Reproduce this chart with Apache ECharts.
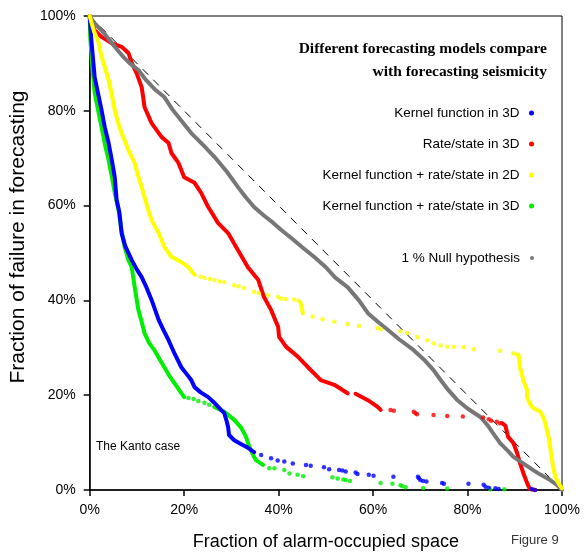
<!DOCTYPE html>
<html>
<head>
<meta charset="utf-8">
<script src="https://cdn.jsdelivr.net/npm/echarts@6/dist/echarts.min.js"></script>
<style>
html,body{margin:0;padding:0;background:#fff;}
#chart{width:584px;height:560px;}
</style>
</head>
<body>
<div id="chart"></div>
<script>
// ---- tick labels / names ----
var xTicks = [0, 20, 40, 60, 80, 100];
var yTicks = [0, 20, 40, 60, 80, 100];
var legendNames = ["Kernel function in 3D", "Rate/state in 3D", "Kernel function + rate/state in 2D", "Kernel function + rate/state in 3D"];
var nullName = "1 % Null hypothesis";

// ---- data: [fraction of alarm-occupied space %, fraction of failure %] ----
// null = break in the continuous trace
var blueSolid = [[0,100],[0.2,97],[0.4,94.3],[0.7,91],[1.05,87.1],[1.8,83.5],[2.5,80.2],[3.2,76.5],[4.0,73.2],[4.7,69.5],[5.3,66.0],[5.7,61.2],[6.3,58.5],[6.75,54.2],[7.5,51.5],[8.9,48.5],[10,46.5],[11.0,44.9],[12,42.8],[13.1,40.1],[14.6,35.9],[15.6,33.8],[16.7,31.6],[18,28.7],[19.4,25.9],[20.5,24.5],[21.5,23.2],[22.2,21.7],[23.5,20.6],[25.1,19.6],[26.5,18.3],[27.8,16.9],[28.5,16.2],[29.0,14.5],[29.3,13.3],[29.5,11.6],[30.6,10.5],[32,9.7],[33.5,8.9],[34.8,8.0]];
var blueDots = [[36.3,7.4],[38.4,6.7],[39.8,6.2],[41.2,6.0],[43.0,5.6],[45.8,5.3],[46.8,5.1],[49.6,4.8],[50.7,4.4],[52.8,4.2],[53.5,4.1],[54.2,3.9],[56.3,3.7],[56.7,3.4],[59.1,3.2],[60.1,3.0],[64.3,2.8],[69.5,2.8],[69.7,2.5],[70.0,2.1],[70.6,1.9],[71.3,1.8],[74.6,1.5],[75.0,1.3],[80.2,1.3],[83.4,1.1],[83.8,0.7],[84.5,0.5],[85.9,0.35],[86.6,0.2],[93.6,0.2],[94.3,0]];

var greenSolid = [[0,100],[0.1,95.6],[0.5,90],[1.05,83.8],[1.8,80],[2.5,76.6],[3.2,73],[4.0,69.6],[4.7,66],[5.3,62.7],[6.1,59.1],[6.7,55],[7.4,51.3],[8.2,48.5],[8.9,47.0],[9.5,43],[10.3,38.0],[11.0,35.5],[11.6,33.1],[12.6,31],[13.7,29.5],[14.8,27.6],[15.8,25.9],[16.8,24.2],[17.9,22.6],[19.0,21],[20.0,19.6],null,[26.4,17.5],[28.5,16.5],[30.6,14.8],[32.1,13.1],[33.1,11.2],[33.8,9.1],[34.6,7.4],[35.2,6.3],[36.7,5.3]];
var greenDots = [[20.9,19.4],[22.0,19.2],[23.0,18.8],[24.3,18.4],[25.3,18.0],[38.0,4.6],[39.1,4.6],[41.2,4.2],[42.3,3.5],[44.0,3.2],[45.2,2.9],[51.4,2.7],[52.5,2.4],[53.7,2.2],[54.2,2.1],[55.1,1.9],[61.6,1.5],[64.1,1.3],[65.8,1.0],[66.2,0.8],[66.9,0.6],[70.6,0.4],[75.7,0.3],[84.8,0.15],[87.8,0.15]];

var yellowSolid = [[0,100],[0.4,98.5],[1.0,96.5],[1.9,94.3],[2.5,91.5],[3.2,89.2],[4.0,86.5],[4.6,83.8],[5.3,80.2],[6.0,77.5],[6.75,75.3],[7.5,73.5],[8.2,71.7],[9.5,69.0],[10.2,66.5],[11.0,63.9],[11.7,61.5],[12.4,59.1],[13.1,57.0],[14.6,54.2],[15.8,51.3],[17.3,49.2],[19.4,48.1],[20.9,47.0],[22.2,45.4],null,[44.6,39.6],[44.9,38.5],[45.1,37.3],null,[90.8,28.5],[91.0,27],[91.1,25.9],[91.5,24.5],[91.8,23.2],[92.2,22],[92.6,21.1],[92.6,19.6],[93.2,18.2],[93.9,17.3],[95.4,16.5],[96.2,15],[96.8,12.7],[97.2,11],[97.5,9.1],[97.8,7],[98.1,4.9],[98.5,3.2],[98.9,2.1],[99.5,1],[100,0.4]];
var yellowDots = [[23.5,45.0],[24.3,44.7],[25.4,44.5],[26.4,44.3],[27.5,44.0],[28.5,43.9],[30.6,43.2],[31.5,43.0],[32.7,42.6],[34.8,41.8],[35.8,41.5],[37.8,41.1],[39.9,40.7],[40.5,40.4],[41.5,40.3],[43.3,40.2],[44.2,39.9],[47.2,36.6],[49.3,36.0],[51.8,35.5],[54.6,35.0],[57.0,34.6],[60.9,34.2],[61.6,33.9],[65.8,33.5],[67.2,33.1],[69.3,32.3],[71.5,31.6],[72.8,30.9],[74.3,30.5],[75.7,30.2],[77.1,30.2],[79.2,30.1],[81.3,29.7],[86.9,29.4],[89.7,28.8],[90.5,28.6]];

var redSolid = [[0,100],[0.4,98.8],[1.05,97.0],[2.5,95.6],[4.6,94.3],[6.75,93.5],[8.2,92.2],[8.9,90.1],[9.9,88.0],[11.0,85.0],[11.3,83],[11.6,80.8],[13.1,77.4],[15.2,74.5],[16.7,73.2],[17.3,71.1],[18.8,69.0],[20.0,66.0],[22.2,64.8],[23.6,62.7],[25.1,59.7],[27.2,56.3],[29.3,54.2],[31.4,50.6],[33.5,47.0],[35.7,44.3],[36.9,40.7],[38.4,38.0],[39.9,34.4],[40.1,32.3],[41.6,30.2],[44.1,28.1],[46.2,25.9],[48.3,23.8],[48.9,23.2],[51.8,22.2],[54.6,20.4],null,[56.3,20.3],[58.8,19.0],[60.9,17.6],[61.6,16.9],null,[87.3,14.1],[88.0,13.6],[88.4,13.3],[88.6,11.2],[89.7,9.9],[90.5,7.8],[91.1,5.7],[91.8,3.6],[92.6,1.5],[93.2,0.2],[94.3,0]];
var redDots = [[63.7,16.9],[64.4,16.7],[68.6,16.5],[69.0,16.2],[69.3,16.0],[72.8,15.8],[75.7,15.6],[79.0,15.5],[83.3,15.3],[84.5,14.9],[85.0,14.6],[86.2,14.4],[86.9,14.1]];

var graySolid = [[0,100],[1,98.5],[2.5,97.0],[4,95.2],[5.3,93.5],[7,91.5],[8.5,90],[10.3,88.6],[12,86.4],[13.8,84.5],[15.8,82.9],[17.5,80.3],[19.5,77.8],[21.5,75.3],[24,72.8],[26.4,70.3],[29,67.2],[31.4,63.9],[33,61.8],[34.8,59.7],[37,57.8],[38.8,56.4],[40.5,54.9],[43,52.9],[45,51.2],[47.5,49.2],[50,47.0],[52,44.8],[54.6,42.8],[57,40],[58.9,37.3],[61,35.5],[63.1,33.8],[65.5,31.8],[68.6,29.5],[70.8,27.5],[72.8,25.3],[74.3,23.2],[76,21],[77.8,19.0],[80,17.2],[82.7,15.4],[84.3,13.6],[85.4,12.0],[86.9,9.9],[88.5,8.3],[89.7,7.0],[91.8,5.6],[93.9,4.2],[95.5,3.2],[97.5,2.1],[99,1],[100,0]];
var diagonal = [[0,100],[100,0]];

var colors = {blue:"#0000ff", red:"#ff0000", yellow:"#ffff00", green:"#00ee00", gray:"#777777"};

function solid(name, data, color){
  return {type:"line", name:name, data:data, showSymbol:false, connectNulls:false, silent:true,
    lineStyle:{color:color, width:4, cap:"round", join:"round"}, itemStyle:{color:color}, z:3};
}
function dots(name, data, color){
  return {type:"scatter", name:name, data:data, symbol:"circle", symbolSize:4.5, silent:true,
    itemStyle:{color:color}, z:3};
}

var chart = echarts.init(document.getElementById("chart"), null, {renderer:"canvas"});
var sans = "'Liberation Sans', Arial, Helvetica, sans-serif";
chart.setOption({
  animation:false,
  backgroundColor:"#fff",
  grid:{left:88, top:16, width:474, height:474, show:true, borderColor:"#000", borderWidth:1, backgroundColor:"transparent"},
  xAxis:{type:"value", min:xTicks[0], max:xTicks[xTicks.length-1], interval:20,
    name:"Fraction of alarm-occupied space", nameLocation:"middle", nameGap:43,
    nameTextStyle:{fontSize:18, color:"#000", fontFamily:sans},
    axisLine:{lineStyle:{color:"#000", width:1.5}},
    axisTick:{inside:false, length:6, lineStyle:{color:"#000", width:1.5}},
    axisLabel:{formatter:"{value}%", fontSize:14, color:"#000", margin:13, fontFamily:sans},
    splitLine:{show:false}},
  yAxis:{type:"value", min:yTicks[0], max:yTicks[yTicks.length-1], interval:20,
    name:"Fraction of failure in forecasting", nameLocation:"middle", nameGap:55,
    nameTextStyle:{fontSize:21, color:"#000", fontFamily:sans, padding:[0,0,0,32]},
    axisLine:{lineStyle:{color:"#000", width:1.5}},
    axisTick:{inside:false, length:6, lineStyle:{color:"#000", width:1.5}},
    axisLabel:{formatter:"{value}%", fontSize:14, color:"#000", margin:14, fontFamily:sans},
    splitLine:{show:false}},
  legend:[
    {orient:"vertical", right:45, top:100, align:"right", icon:"circle", itemWidth:14, itemHeight:5, itemGap:15,
      data:legendNames, selectedMode:false,
      textStyle:{fontSize:13.5, color:"#000", fontFamily:sans, lineHeight:16}},
    {orient:"vertical", right:45, top:245, align:"right", icon:"circle", itemWidth:14, itemHeight:4, itemGap:15,
      data:[nullName], selectedMode:false,
      textStyle:{fontSize:13.5, color:"#000", fontFamily:sans, lineHeight:16}}
  ],
  graphic:[
    {type:"text", right:37, top:37, style:{text:"Different forecasting models compare\nwith forecasting seismicity", textAlign:"right",
      font:"bold 15.5px 'Liberation Serif', 'DejaVu Serif', serif", lineHeight:23, fill:"#000"}},
    {type:"text", left:96, top:441, style:{text:"The Kanto case", font:"12px " + sans, fill:"#000"}},
    {type:"text", left:511, top:534, style:{text:"Figure 9", font:"13px " + sans, fill:"#333"}}
  ],
  series:[
    {type:"line", name:"diagonal", data:diagonal, showSymbol:false, silent:true,
      lineStyle:{color:"#000", width:1, type:[8,7]}, z:2},
    solid(legendNames[3], greenSolid, colors.green),
    dots(legendNames[3], greenDots, colors.green),
    solid(legendNames[0], blueSolid, colors.blue),
    dots(legendNames[0], blueDots, colors.blue),
    solid(legendNames[1], redSolid, colors.red),
    dots(legendNames[1], redDots, colors.red),
    solid(nullName, graySolid, colors.gray),
    solid(legendNames[2], yellowSolid, colors.yellow),
    dots(legendNames[2], yellowDots, colors.yellow)
  ]
});
</script>
</body>
</html>
